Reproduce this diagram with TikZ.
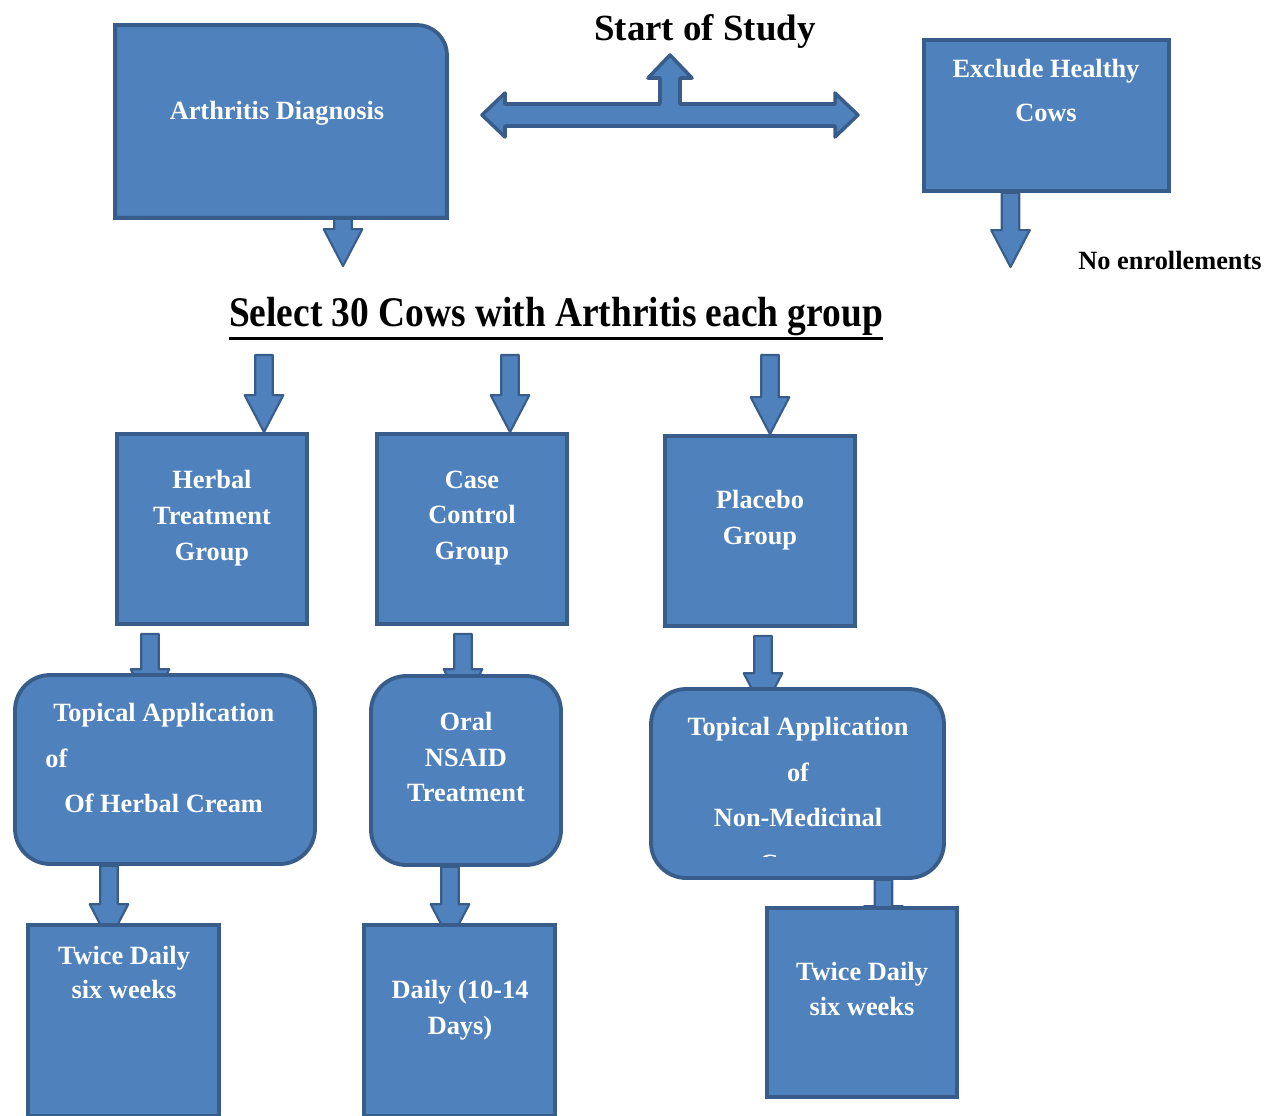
\documentclass[tikz,border=0pt]{standalone}
\usepackage{fontspec}
\setmainfont{Liberation Serif}
\usepackage{graphicx}
\usepackage{tikz}
\usetikzlibrary{calc, backgrounds}
\definecolor{boxblue}{RGB}{79,129,189}
\definecolor{boxedge}{RGB}{56,93,138}
\tikzset{
  sqbox/.style={rectangle,draw=boxedge,fill=boxblue,line width=2.2pt,inner sep=0pt},
  rndbox/.style={sqbox,rounded corners=20pt},
  boxtxt/.style={text=white,font=\fontsize{15}{20.4}\selectfont\bfseries,align=center,inner sep=0pt},
  widetxt/.style={boxtxt,font=\fontsize{15}{26}\selectfont\bfseries},
  headtxt/.style={text=black,font=\fontsize{21}{25}\selectfont\bfseries,inner sep=0pt},
  arrline/.style={draw=boxedge,fill=boxblue,line width=1.2pt,line join=round},
  blockarr/.style={arrline,
    to path={let \p1=(\tikztostart), \p2=(\tikztotarget) in
      (\x1-5pt,\y1) -- (\x1-5pt,\y2+21pt) -- (\x1-11pt,\y2+21pt) -- (\x1,\y2)
      -- (\x1+11pt,\y2+21pt) -- (\x1+5pt,\y2+21pt) -- (\x1+5pt,\y1) -- cycle}}
}
\begin{document}
\begin{tikzpicture}[x=0.02cm, y=-0.02cm]
  \useasboundingbox (0,0) rectangle (1265,1116);
  \clip (0,0) rectangle (1265,1116);

  % top row
  \node[sqbox, draw=none, fill=none, minimum width=6.56cm, minimum height=3.78cm] (diag) at (281,121.5) {};
  \draw[sqbox] (diag.south west) -- (diag.north west) -- ([xshift=-17pt]diag.north east)
    arc[start angle=90, end angle=0, radius=17pt] -- (diag.south east) -- cycle;
  \node[boxtxt] (diagtxt) at (277,113) {Arthritis Diagnosis};
  \node[sqbox, minimum width=4.9cm, minimum height=3.02cm] (excl) at (1046.5,115.5) {};
  \node[boxtxt, font=\fontsize{15}{25.5}\selectfont\bfseries] (excltxt) at (1046,90.5) {Exclude Healthy\\Cows};
  \node[headtxt] (start) at (705,31) {Start of Study};
  \node[boxtxt, text=black] (noenr) at (1170,260) {No enrollements};

  \coordinate (hub) at (670,115);
  \draw[arrline, line width=2pt, shift={(hub)}] (-188,0) -- (-165,-22) -- (-165,-11) -- (-10,-11) -- (-10,-37)
    -- (-22,-37) -- (0,-60) -- (22,-37) -- (10,-37) -- (10,-11) -- (165,-11) -- (165,-22)
    -- (188,0) -- (165,22) -- (165,11) -- (-165,11) -- (-165,22) -- cycle;

  \node[headtxt, font=\fontsize{24}{28}\selectfont\bfseries] (sel) at (556,317)
    {\scalebox{0.887}[1]{Select 30 Cows with Arthritis each group}};
  \draw[line width=1.9pt] ([yshift=-1pt]sel.south west) -- ([yshift=-1pt]sel.south east);

  % groups
  \node[sqbox, minimum width=3.8cm, minimum height=3.8cm] (herb) at (212,529) {};
  \node[boxtxt] (herbtxt) at (212,518) {Herbal\\Treatment\\Group};
  \node[sqbox, minimum width=3.8cm, minimum height=3.8cm] (case) at (472,529) {};
  \node[boxtxt] (casetxt) at (472,518) {Case\\Control\\Group};
  \node[sqbox, minimum width=3.8cm, minimum height=3.8cm] (plac) at (760,531) {};
  \node[boxtxt] (plactxt) at (760,520) {Placebo\\Group};

  % treatments
  \node[rndbox, minimum width=6cm, minimum height=3.78cm] (topherb) at (165,769.5) {};
  \node[widetxt, align=left, anchor=west] (topherbtxt) at (45,758)
    {\hspace*{4.5pt}Topical Application\\of\\\hspace*{10.8pt}Of Herbal Cream};
  \node[rndbox, minimum width=3.8cm, minimum height=3.78cm] (oral) at (466,770.5) {};
  \node[boxtxt] (oraltxt) at (466,757) {Oral\\NSAID\\Treatment};
  \node[rndbox, minimum width=5.86cm, minimum height=3.78cm] (topplac) at (797.5,783.5) {};
  \begin{scope}
    \clip (649,687) rectangle (946,856);
    \node[widetxt] (topplactxt) at (798,795) {Topical Application\\of\\Non-Medicinal\\Cream};
  \end{scope}

  % schedules
  \node[sqbox, minimum width=3.82cm, minimum height=3.82cm] (twl) at (123.5,1020.5) {};
  \node[boxtxt, font=\fontsize{15}{19.8}\selectfont\bfseries] (twltxt) at (124,972.5) {Twice Daily\\six weeks};
  \node[sqbox, minimum width=3.82cm, minimum height=3.82cm] (daily) at (459.5,1020.5) {};
  \node[boxtxt] (dailytxt) at (460,1010) {Daily (10-14\\Days)};
  \node[sqbox, minimum width=3.8cm, minimum height=3.78cm] (twr) at (862,1002.5) {};
  \node[boxtxt] (twrtxt) at (862,989) {Twice Daily\\six weeks};

  \coordinate (a1) at (343,266);
  \coordinate (a2) at (1010,267);
  \coordinate (s1) at (264,355);
  \coordinate (s2) at (510,355);
  \coordinate (s3) at (770,355);

  \begin{scope}[on background layer]
    \draw[blockarr] ($(diag.south)+(62,0)$) to (a1);
    \draw[blockarr] ($(excl.south)+(-36,0)$) to (a2);
    \draw[blockarr] (s1) to ($(herb.north)+(52,0)$);
    \draw[blockarr] (s2) to ($(case.north)+(38,0)$);
    \draw[blockarr] (s3) to ($(plac.north)+(10,0)$);
    \draw[blockarr] ($(herb.south)+(-62,8)$) to ($(topherb.north)+(-15,33)$);
    \draw[blockarr] ($(case.south)+(-9,8)$) to ($(oral.north)+(-3,32)$);
    \draw[blockarr] ($(plac.south)+(3,8)$) to ($(topplac.north)+(-35,23)$);
    \draw[blockarr] ($(topherb.south)+(-56,0)$) to ($(twl.north)+(-14,18)$);
    \draw[blockarr] ($(oral.south)+(-16,0)$) to ($(daily.north)+(-10,18)$);
    \draw[blockarr] ($(topplac.south)+(86,0)$) to ($(twr.north)+(22,37)$);
  \end{scope}
\end{tikzpicture}
\end{document}
